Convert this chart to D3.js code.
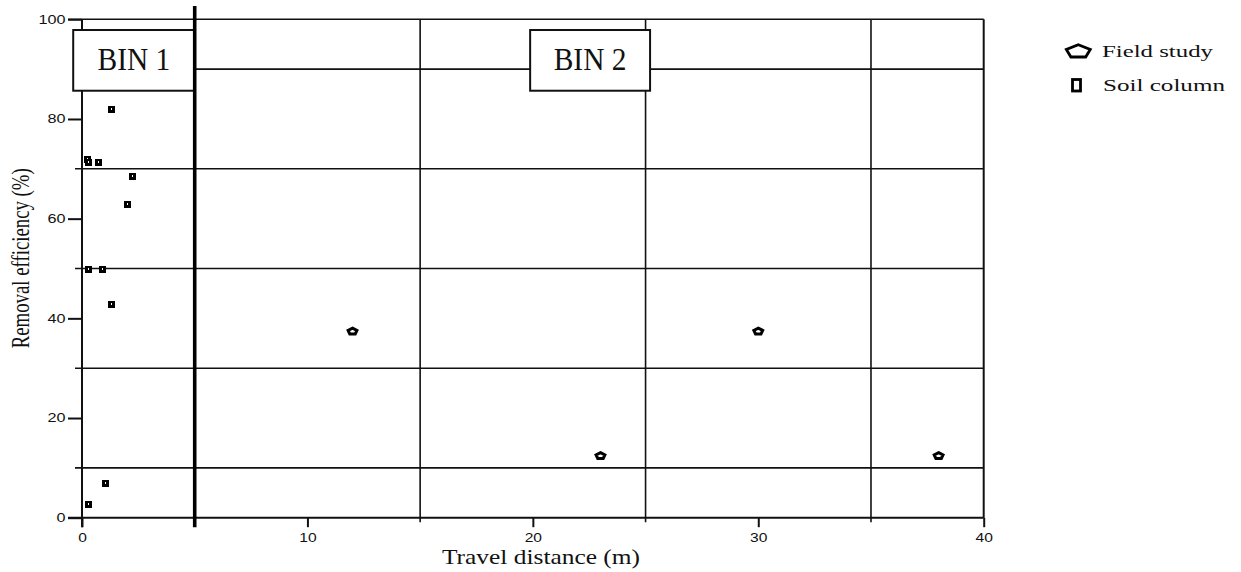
<!DOCTYPE html>
<html><head><meta charset="utf-8">
<script src="https://cdn.jsdelivr.net/npm/d3@7"></script>
<style>body{margin:0;background:#fff}svg{display:block}</style>
</head><body>
<svg id="chart" width="1241" height="572"></svg>
<script>
// ---- data ----
const soilX = [1.3, 0.2, 0.25, 0.7, 2.2, 2.0, 0.25, 0.9, 1.3, 1.0, 0.25];
const soilY = [82, 72, 71.3, 71.4, 68.6, 62.9, 50, 50, 42.9, 7, 2.8];
const fieldX = [12, 23, 30, 38];
const fieldY = [37.5, 12.5, 37.5, 12.5];
const xTicks = [0, 10, 20, 30, 40];
const yTicks = [0, 20, 40, 60, 80, 100];
const hGrid = [10, 30, 50, 70, 90];
const vGrid = [15, 25, 35];
const binEdge = 5;
const binLabels = ["BIN 1", "BIN 2"];
const binX0 = [-0.39, 19.88];
const binX1 = [5, 25.2];
const binYTop = 97.85, binYBot = 85.67;
const legendLabels = ["Field study", "Soil column"];

const svg = d3.select("#chart");
const x = d3.scaleLinear().domain([0, 40]).range([82, 983.7]);
const y = d3.scaleLinear().domain([0, 100]).range([517.7, 19.3]);
const SANS = "'Liberation Sans', Arial, sans-serif";
const SERIF = "'Liberation Serif', 'Times New Roman', serif";

function stretch(sel, k) {
  sel.each(function () {
    const L = this.getComputedTextLength();
    this.setAttribute("textLength", L * k);
    this.setAttribute("lengthAdjust", "spacingAndGlyphs");
  });
}

// grid
const g = svg.append("g").attr("stroke", "#111").attr("fill", "none");
g.selectAll(".hg").data(hGrid).join("line")
  .attr("x1", 75).attr("x2", x(40)).attr("y1", d => y(d)).attr("y2", d => y(d))
  .attr("stroke-width", 1.6);
g.selectAll(".vg").data(vGrid).join("line")
  .attr("x1", d => x(d)).attr("x2", d => x(d)).attr("y1", y(100)).attr("y2", y(0) + 4.5)
  .attr("stroke-width", 1.6);
// frame
g.append("line").attr("x1", 68).attr("x2", x(40)).attr("y1", y(100)).attr("y2", y(100)).attr("stroke-width", 1.6);
g.append("line").attr("x1", 68).attr("x2", x(40)).attr("y1", y(0)).attr("y2", y(0)).attr("stroke-width", 2);
g.append("line").attr("x1", x(0)).attr("x2", x(0)).attr("y1", y(100)).attr("y2", y(0) + 9.5).attr("stroke-width", 2);
g.append("line").attr("x1", x(40)).attr("x2", x(40)).attr("y1", y(100)).attr("y2", y(0)).attr("stroke-width", 2);

// axes
const ya = svg.append("g").attr("transform", `translate(${x(0)},0)`)
  .call(d3.axisLeft(y).tickValues(yTicks).tickSize(14).tickPadding(2.5));
ya.select(".domain").remove();
ya.selectAll(".tick line").attr("stroke", "#111").attr("stroke-width", 2);
ya.selectAll("text").attr("font-family", SANS).attr("font-size", 12).attr("fill", "#111");
stretch(ya.selectAll("text"), 1.35);

const xa = svg.append("g").attr("transform", `translate(0,${y(0)})`)
  .call(d3.axisBottom(x).tickValues(xTicks).tickSize(9.5).tickPadding(6));
xa.select(".domain").remove();
xa.selectAll(".tick line").attr("stroke", "#111").attr("stroke-width", 2);
xa.selectAll("text").attr("font-family", SANS).attr("font-size", 12).attr("fill", "#111");
stretch(xa.selectAll("text"), 1.3);

// bin boxes
const bins = svg.append("g");
binLabels.forEach((lab, i) => {
  const x0 = x(binX0[i]), x1 = x(binX1[i]);
  bins.append("rect").attr("x", x0).attr("y", y(binYTop))
    .attr("width", x1 - x0).attr("height", y(binYBot) - y(binYTop))
    .attr("fill", "#fff").attr("stroke", "#111").attr("stroke-width", 2);
  const t = bins.append("text").attr("x", (x0 + x1) / 2).attr("y", 70)
    .attr("text-anchor", "middle").attr("font-family", SERIF).attr("font-size", 32)
    .attr("fill", "#111").text(lab);
  stretch(t, 0.92);
});
// thick bin separator
svg.append("line").attr("x1", x(binEdge)).attr("x2", x(binEdge)).attr("y1", 6).attr("y2", y(0) + 9.5)
  .attr("stroke", "#000").attr("stroke-width", 3.6);

// markers
function pent(r, sx) {
  const pts = d3.range(5).map(i => {
    const a = (-90 + 72 * i) * Math.PI / 180;
    return [r * Math.cos(a) * sx, r * Math.sin(a)];
  });
  return "M" + pts.map(p => p.join(",")).join("L") + "Z";
}
const soil = svg.append("g").attr("shape-rendering", "crispEdges");
soilX.forEach((sxv, i) => {
  const cx = Math.round(x(sxv)), cy = Math.round(y(soilY[i]));
  soil.append("rect").attr("x", cx - 3).attr("y", cy - 3).attr("width", 7).attr("height", 7).attr("fill", "#000");
  soil.append("rect").attr("x", cx).attr("y", cy - 1).attr("width", 1).attr("height", 2).attr("fill", "#fff");
});
svg.append("g").selectAll("path").data(fieldX).join("path")
  .attr("transform", (d, i) => `translate(${x(d)},${y(fieldY[i]) + 0.5})`)
  .attr("d", pent(3.2, 1.45)).attr("fill", "#fff").attr("stroke", "#000").attr("stroke-width", 3)
  .attr("stroke-linejoin", "miter");

// axis titles
const yl = svg.append("text").attr("transform", "translate(28.5,258.3) rotate(-90)")
  .attr("text-anchor", "middle").attr("font-family", SERIF).attr("font-size", 25).attr("fill", "#111")
  .text("Removal efficiency (%)");
yl.attr("textLength", 180).attr("lengthAdjust", "spacingAndGlyphs");
const xl = svg.append("text").attr("x", 541).attr("y", 564)
  .attr("text-anchor", "middle").attr("font-family", SERIF).attr("font-size", 21).attr("fill", "#111")
  .text("Travel distance (m)");
xl.attr("textLength", 198).attr("lengthAdjust", "spacingAndGlyphs");

// legend
const lg = svg.append("g");
lg.append("path").attr("transform", "translate(1078.3,51.5)").attr("d", pent(6.8, 1.85))
  .attr("fill", "#fff").attr("stroke", "#000").attr("stroke-width", 2.8);
lg.append("rect").attr("x", 1072.5).attr("y", 79.5).attr("width", 8).attr("height", 11.5)
  .attr("fill", "#fff").attr("stroke", "#000").attr("stroke-width", 2.8);
lg.append("text").attr("x", 1102).attr("y", 57).attr("font-family", SERIF).attr("font-size", 17)
  .attr("fill", "#111").text(legendLabels[0]).attr("textLength", 111).attr("lengthAdjust", "spacingAndGlyphs");
lg.append("text").attr("x", 1103).attr("y", 91).attr("font-family", SERIF).attr("font-size", 17)
  .attr("fill", "#111").text(legendLabels[1]).attr("textLength", 122).attr("lengthAdjust", "spacingAndGlyphs");
</script>
</body></html>
